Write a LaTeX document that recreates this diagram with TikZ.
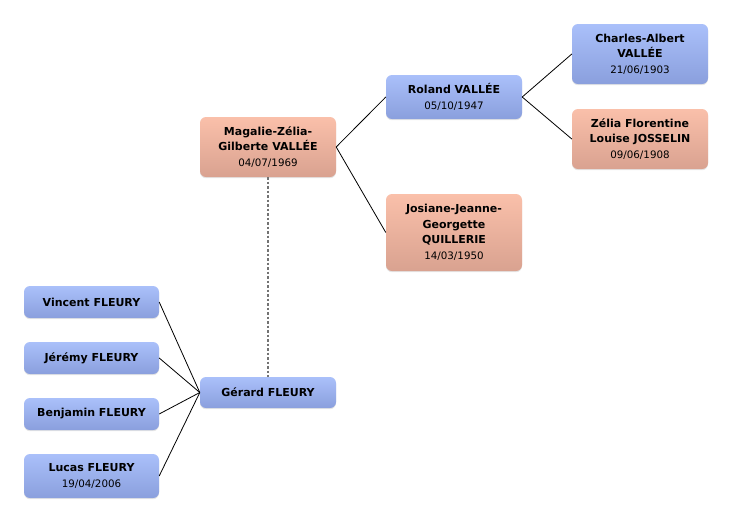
\documentclass[tikz,border=0pt]{standalone}
\usepackage{fontspec}
\setmainfont{DejaVu Sans}
\usetikzlibrary{shadows}
\definecolor{bluetop}{HTML}{AAC0FA}
\definecolor{bluebot}{HTML}{8A9FDD}
\definecolor{pinktop}{HTML}{FAC0AA}
\definecolor{pinkbot}{HTML}{D9A290}
\newcommand{\dt}[1]{{\fontsize{10.3}{12}\selectfont\mdseries #1}}
\tikzset{
  person/.style={rounded corners=6pt, minimum width=136pt, align=center, inner sep=2pt,
    font=\fontsize{11}{15.5}\selectfont\bfseries,
    drop shadow={opacity=0.2, shadow xshift=0pt, shadow yshift=-1.2pt}},
  male/.style={person, top color=bluetop, bottom color=bluebot},
  female/.style={person, top color=pinktop, bottom color=pinkbot},
  link/.style={draw=black, line width=0.8pt},
  union/.style={draw=black!55, line width=2pt, dash pattern=on 2.5pt off 2pt},
}
\begin{document}
\begin{tikzpicture}[x=1pt,y=-1pt]
\useasboundingbox[fill=white] (0,0) rectangle (732,523);
\node[female, minimum height=60pt] (magalie) at (268,147) {Magalie-Zélia-\\Gilberte VALLÉE\\\dt{04/07/1969}};
\node[male, minimum height=44pt] (roland) at (454,97) {Roland VALLÉE\\\dt{05/10/1947}};
\node[female, minimum height=77pt] (josiane) at (454,232.5) {Josiane-Jeanne-\\Georgette\\QUILLERIE\\\dt{14/03/1950}};
\node[male, minimum height=60pt] (charles) at (640,54) {Charles-Albert\\VALLÉE\\\dt{21/06/1903}};
\node[female, minimum height=60pt] (zelia) at (640,139) {Zélia Florentine\\Louise JOSSELIN\\\dt{09/06/1908}};
\node[male, minimum height=31pt] (gerard) at (268,392.5) {Gérard FLEURY};
\node[male, minimum height=32pt, minimum width=135pt] (vincent) at (91.5,302) {Vincent FLEURY};
\node[male, minimum height=32pt, minimum width=135pt] (jeremy) at (91.5,358) {Jérémy FLEURY};
\node[male, minimum height=32pt, minimum width=135pt] (benjamin) at (91.5,414) {Benjamin FLEURY};
\node[male, minimum height=44pt, minimum width=135pt] (lucas) at (91.5,476) {Lucas FLEURY\\\dt{19/04/2006}};

\draw[link] (magalie.east) -- (roland.west);
\draw[link] (magalie.east) -- (josiane.west);
\draw[link] (roland.east) -- (charles.west);
\draw[link] (roland.east) -- (zelia.west);
\draw[link] (vincent.east) -- (gerard.west);
\draw[link] (jeremy.east) -- (gerard.west);
\draw[link] (benjamin.east) -- (gerard.west);
\draw[link] (lucas.east) -- (gerard.west);
\draw[union] (magalie.south) -- (gerard.north);
\end{tikzpicture}
\end{document}
